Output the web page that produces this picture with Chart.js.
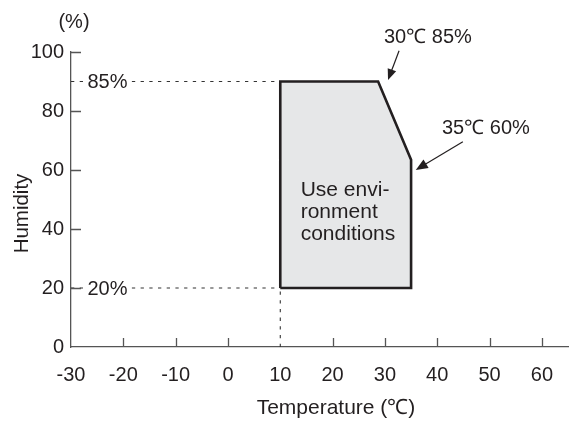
<!DOCTYPE html>
<html><head><meta charset="utf-8">
<script src="https://cdn.jsdelivr.net/npm/chart.js@4"></script>
<style>html,body{margin:0;padding:0;background:#fff}</style>
</head><body>
<canvas id="c" width="569" height="421"></canvas>
<script>
// ---- data ----
const xTickValues = [-30, -20, -10, 0, 10, 20, 30, 40, 50, 60];
const yTickValues = [0, 20, 40, 60, 80, 100];
const regionTemp = [10, 10, 28.7, 35, 35, 10];
const regionHumidity = [20, 90, 90, 63.5, 20, 20];
const upperGuideTemp = [-30, 10];
const upperGuideHumidity = [90, 90];
const lowerGuideTemp = [-30, 10];
const lowerGuideHumidity = [20, 20];
const verticalGuideTemp = [10, 10];
const verticalGuideHumidity = [0, 20];
const guideLabelText = ['85%', '20%'];
const guideLabelHumidity = [90, 20];
const callout1Text = '30\u2103 85%';
const callout2Text = '35\u2103 60%';
const regionTextLines = ['Use envi-', 'ronment', 'conditions'];
const yUnitText = '(%)';
const yTitleText = 'Humidity';
const xTitleText = 'Temperature (\u2103)';

const pts = (xs, ys) => xs.map((x, i) => ({x: x, y: ys[i]}));

const FONT = "'Liberation Sans', Arial, Helvetica, sans-serif";
const TXT = '#231f20';
const AXIS = '#555555';

const guideStyle = {
  type: 'line', showLine: true, fill: false, pointRadius: 0,
  borderColor: '#333', borderWidth: 1.1, borderDash: [3.3, 5.4]
};

const decor = {
  id: 'decor',
  afterDraw(chart) {
    const ctx = chart.ctx;
    const xs = chart.scales.x, ys = chart.scales.y;
    const ca = chart.chartArea;
    ctx.save();
    // inward ticks
    ctx.strokeStyle = AXIS;
    ctx.lineWidth = 1.3;
    ctx.beginPath();
    yTickValues.forEach(v => {
      if (v === ys.min) return;
      const py = Math.round(ys.getPixelForValue(v)) + 0.5;
      ctx.moveTo(ca.left, py); ctx.lineTo(ca.left + 10, py);
    });
    xTickValues.forEach(v => {
      if (v === xs.min || v === verticalGuideTemp[0]) return;
      const px = Math.round(xs.getPixelForValue(v)) + 0.5;
      ctx.moveTo(px, ca.bottom); ctx.lineTo(px, ca.bottom - 9);
    });
    ctx.stroke();

    ctx.font = '20px ' + FONT;
    ctx.fillStyle = TXT;
    ctx.textBaseline = 'middle';

    // guide labels with white knockout
    guideLabelText.forEach((t, i) => {
      const py = ys.getPixelForValue(guideLabelHumidity[i]);
      const lx = ca.left + 16.5;
      const w = ctx.measureText(t).width;
      ctx.fillStyle = '#fff';
      ctx.fillRect(lx - 2, py - 9, w + 4, 18);
      ctx.fillStyle = TXT;
      ctx.textAlign = 'left';
      ctx.fillText(t, lx, py + 1);
    });

    // unit label
    ctx.textAlign = 'center';
    ctx.fillText(yUnitText, ca.left + 3, 22);

    // y title
    ctx.save();
    ctx.font = '20.5px ' + FONT;
    ctx.translate(22, (ca.top + ca.bottom) / 2 + 14);
    ctx.rotate(-Math.PI / 2);
    ctx.fillText(yTitleText, 0, 0);
    ctx.restore();

    // x title
    ctx.save();
    ctx.font = '21px ' + FONT;
    ctx.fillText(xTitleText, 336, 408);
    ctx.restore();

    // region text
    ctx.save();
    ctx.font = '21px ' + FONT;
    ctx.textAlign = 'left';
    const tx = xs.getPixelForValue(13.9);
    regionTextLines.forEach((t, i) => {
      ctx.fillText(t, tx, 190 + i * 22);
    });
    ctx.restore();

    // callout texts
    ctx.textAlign = 'left';
    ctx.fillText(callout1Text, 384, 37);
    ctx.fillText(callout2Text, 442, 128);

    // arrows
    function arrow(x1, y1, x2, y2, len, half) {
      const a = Math.atan2(y2 - y1, x2 - x1);
      ctx.strokeStyle = TXT;
      ctx.lineWidth = 1.2;
      ctx.beginPath();
      ctx.moveTo(x1, y1);
      ctx.lineTo(x2 - Math.cos(a) * len * 0.8, y2 - Math.sin(a) * len * 0.8);
      ctx.stroke();
      ctx.fillStyle = TXT;
      ctx.beginPath();
      ctx.moveTo(x2, y2);
      ctx.lineTo(x2 - Math.cos(a) * len - Math.sin(a) * half, y2 - Math.sin(a) * len + Math.cos(a) * half);
      ctx.lineTo(x2 - Math.cos(a) * len + Math.sin(a) * half, y2 - Math.sin(a) * len - Math.cos(a) * half);
      ctx.closePath();
      ctx.fill();
    }
    arrow(xs.getPixelForValue(32.7), ys.getPixelForValue(100.4), xs.getPixelForValue(30.6), ys.getPixelForValue(90.5), 11, 4.5);
    arrow(xs.getPixelForValue(44.9), ys.getPixelForValue(69.6), xs.getPixelForValue(35.9), ys.getPixelForValue(60.0), 12, 5);
    ctx.restore();
  }
};

new Chart(document.getElementById('c'), {
  type: 'scatter',
  data: {
    datasets: [
      {
        type: 'line', showLine: true, data: pts(regionTemp, regionHumidity),
        fill: 'shape', backgroundColor: '#e6e7e8', borderColor: TXT, borderWidth: 2.6,
        pointRadius: 0, tension: 0, borderJoinStyle: 'miter'
      },
      Object.assign({data: pts(upperGuideTemp, upperGuideHumidity)}, guideStyle),
      Object.assign({data: pts(lowerGuideTemp, lowerGuideHumidity)}, guideStyle),
      Object.assign({data: pts(verticalGuideTemp, verticalGuideHumidity)}, guideStyle)
    ]
  },
  options: {
    responsive: false,
    animation: false,
    devicePixelRatio: 1,
    layout: {padding: {left: 0, right: 0, top: 52, bottom: 0}},
    plugins: {legend: {display: false}, tooltip: {enabled: false}},
    scales: {
      x: {
        type: 'linear', min: -30, max: 65,
        afterBuildTicks: s => { s.ticks = xTickValues.map(v => ({value: v})); },
        afterFit: s => { s.height = 74; },
        grid: {display: false, drawTicks: false},
        border: {display: true, color: AXIS, width: 1.3},
        ticks: {color: TXT, font: {family: FONT, size: 20}, padding: 16, maxRotation: 0, autoSkip: false}
      },
      y: {
        type: 'linear', min: 0, max: 100,
        afterBuildTicks: s => { s.ticks = yTickValues.map(v => ({value: v})); },
        afterFit: s => { s.width = 71; },
        grid: {display: false, drawTicks: false},
        border: {display: true, color: AXIS, width: 1.3},
        ticks: {color: TXT, font: {family: FONT, size: 20}, padding: 7}
      }
    }
  },
  plugins: [decor]
});
</script>
</body></html>
